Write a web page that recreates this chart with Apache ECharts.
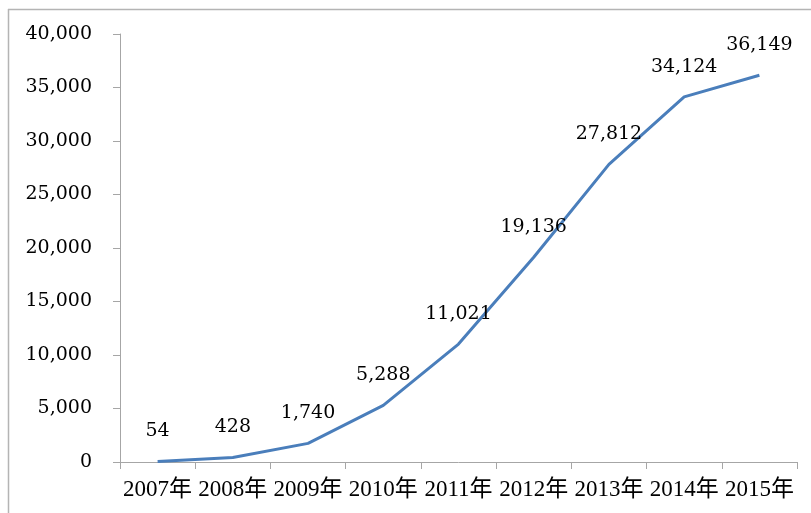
<!DOCTYPE html>
<html>
<head>
<meta charset="utf-8">
<script src="https://cdn.jsdelivr.net/npm/echarts@6/dist/echarts.min.js"></script>
<style>html,body{margin:0;padding:0;background:#fff;}#c{width:811px;height:513px;}</style>
</head>
<body>
<div id="c"></div>
<script>
const categories = ['2007年','2008年','2009年','2010年','2011年','2012年','2013年','2014年','2015年'];
const values = [54, 428, 1740, 5288, 11021, 19136, 27812, 34124, 36149];
const yTicks = { min: 0, max: 40000, interval: 5000 };

const chart = echarts.init(document.getElementById('c'));
const fmt = v => String(v).replace(/\B(?=(\d{3})+(?!\d))/g, ',');
chart.setOption({
  animation: false,
  backgroundColor: '#fff',
  grid: { left: 120, right: 14, top: 34, bottom: 51 },
  graphic: [
    { type: 'line', shape: { x1: 8.5, y1: 9, x2: 8.5, y2: 513 }, style: { stroke: '#b4b4b4', lineWidth: 1.5 } },
    { type: 'line', shape: { x1: 8, y1: 9.5, x2: 811, y2: 9.5 }, style: { stroke: '#b4b4b4', lineWidth: 1.5 } }
  ],
  xAxis: {
    type: 'category',
    data: categories,
    boundaryGap: true,
    axisLine: { lineStyle: { color: '#a6a6a6', width: 1 } },
    axisTick: { show: true, length: 7, inside: false, alignWithLabel: false, lineStyle: { color: '#a6a6a6' } },
    axisLabel: { interval: 0, margin: 16, color: '#000', fontFamily: 'Liberation Serif, Noto Sans CJK SC', fontSize: 23 }
  },
  yAxis: {
    type: 'value',
    min: yTicks.min, max: yTicks.max, interval: yTicks.interval,
    splitLine: { show: false },
    axisLine: { show: true, lineStyle: { color: '#a6a6a6', width: 1 } },
    axisTick: { show: true, length: 7, lineStyle: { color: '#a6a6a6' } },
    axisLabel: { margin: 28, color: '#000', fontFamily: 'DejaVu Serif', fontSize: 19, formatter: fmt }
  },
  series: [{
    type: 'line',
    data: values,
    symbol: 'circle',
    symbolSize: 1,
    showSymbol: true,
    itemStyle: { color: 'rgba(74,126,187,0)' },
    lineStyle: { color: '#4a7ebb', width: 3 },
    label: {
      show: true, position: 'top', distance: 20,
      color: '#000', fontFamily: 'DejaVu Serif', fontSize: 19,
      formatter: p => fmt(p.value)
    }
  }]
});
</script>
</body>
</html>
